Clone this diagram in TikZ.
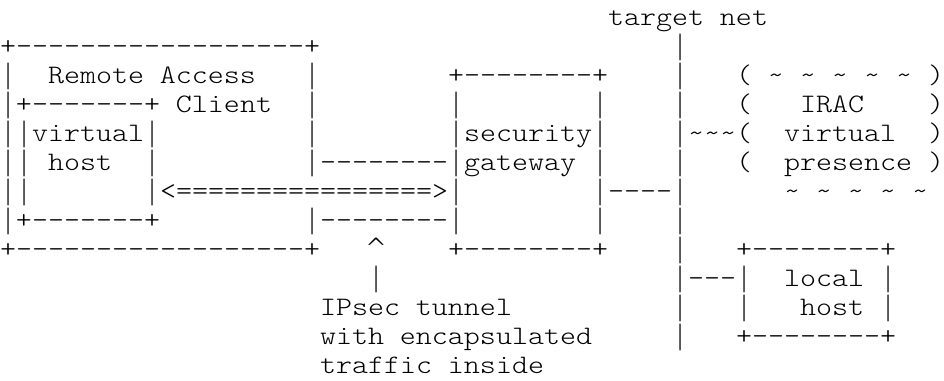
\documentclass[tikz,border=0pt]{standalone}
\usepackage{fontspec}
\newfontfamily\asciifont{lmmonolt10-regular.otf}[FakeStretch=1.143,Ligatures=TeXOff]
\newfontfamily\barfont{DejaVu Sans ExtraLight}
\usepackage{tikz}
\newcommand{\tld}{\textasciitilde}
\newcommand{\vb}{\makebox[0.6em]{\barfont|}}
\newcommand{\crt}{\makebox[0.6em]{\barfont\textasciicircum}}

\begin{document}
\begin{tikzpicture}[x=0.75pt,y=0.75pt,yscale=-1,xscale=1,
  ascii/.style={anchor=base west,inner sep=0pt,outer sep=0pt,font={\asciifont\fontsize{20pt}{20pt}\selectfont}}]
\useasboundingbox (4,0) rectangle (948,380);

% Text Node
\draw (612,25) node (tgtlabel) [ascii] {target net};
% Text Node
\draw (4,54) node (ractop) [ascii] {+------------------+};
\draw (676,54) node (tgt1) [ascii] {\vb};
% Text Node
\draw (4,83) node (racl2) [ascii] {\vb};
\draw (52,83) node (ractitle) [ascii] {Remote Access};
\draw (308,83) node (racr2) [ascii] {\vb};
\draw (452,83) node (gwtop) [ascii] {+--------+};
\draw (676,83) node (tgt2) [ascii] {\vb};
\draw (740,83) node (cloudtop) [ascii] {( \tld{} \tld{} \tld{} \tld{} \tld{} )};
% Text Node
\draw (4,112) node (vhtop) [ascii] {\vb{}+-------+ Client};
\draw (308,112) node (racr3) [ascii] {\vb};
\draw (452,112) node (gwl3) [ascii] {\vb};
\draw (596,112) node (gwr3) [ascii] {\vb};
\draw (676,112) node (tgt3) [ascii] {\vb};
\draw (740,112) node (cloudl3) [ascii] {(};
\draw (804,112) node (irac) [ascii] {IRAC};
\draw (932,112) node (cloudr3) [ascii] {)};
% Text Node
\draw (4,141) node (vhname) [ascii] {\vb\vb{}virtual\vb};
\draw (308,141) node (racr4) [ascii] {\vb};
\draw (452,141) node (gwname) [ascii] {\vb{}security\vb};
\draw (676,141) node (tgtlink) [ascii] {\vb\tld\tld\tld(};
\draw (788,141) node (cloudname) [ascii] {virtual};
\draw (932,141) node (cloudr4) [ascii] {)};
% Text Node
\draw (4,170) node (vhl5) [ascii] {\vb\vb};
\draw (52,170) node (vhhost) [ascii] {host};
\draw (148,170) node (vhr5) [ascii] {\vb};
\draw (308,170) node (linkup) [ascii] {\vb{}--------\vb{}gateway};
\draw (596,170) node (gwr5) [ascii] {\vb};
\draw (676,170) node (tgt5) [ascii] {\vb};
\draw (740,170) node (cloudl5) [ascii] {(};
\draw (788,170) node (cloudpres) [ascii] {presence )};
% Text Node
\draw (4,199) node (vhl6) [ascii] {\vb\vb};
\draw (148,199) node (tunnel) [ascii] {\vb{}<================>\vb};
\draw (596,199) node (gwlink) [ascii] {\vb{}----\vb};
\draw (788,199) node (cloudbot) [ascii] {\tld{} \tld{} \tld{} \tld{} \tld};
% Text Node
\draw (4,228) node (vhbot) [ascii] {\vb{}+-------+};
\draw (308,228) node (linkdown) [ascii] {\vb{}--------\vb};
\draw (596,228) node (gwr7) [ascii] {\vb};
\draw (676,228) node (tgt7) [ascii] {\vb};
% Text Node
\draw (4,257) node (racbot) [ascii] {+------------------+};
\draw (372,257) node (caret) [ascii] {\crt};
\draw (452,257) node (gwbot) [ascii] {+--------+};
\draw (676,257) node (tgt8) [ascii] {\vb};
\draw (740,257) node (lhtop) [ascii] {+--------+};
% Text Node
\draw (372,286) node (pointer) [ascii] {\vb};
\draw (676,286) node (lhlink) [ascii] {\vb{}---\vb};
\draw (788,286) node (lhname) [ascii] {local};
\draw (884,286) node (lhr9) [ascii] {\vb};
% Text Node
\draw (324,315) node (note1) [ascii] {IPsec tunnel};
\draw (676,315) node (tgt10) [ascii] {\vb};
\draw (740,315) node (lhl10) [ascii] {\vb};
\draw (804,315) node (lhhost) [ascii] {host};
\draw (884,315) node (lhr10) [ascii] {\vb};
% Text Node
\draw (324,344) node (note2) [ascii] {with encapsulated};
\draw (676,344) node (tgt11) [ascii] {\vb};
\draw (740,344) node (lhbot) [ascii] {+--------+};
% Text Node
\draw (324,373) node (note3) [ascii] {traffic inside};

\end{tikzpicture}
\end{document}
